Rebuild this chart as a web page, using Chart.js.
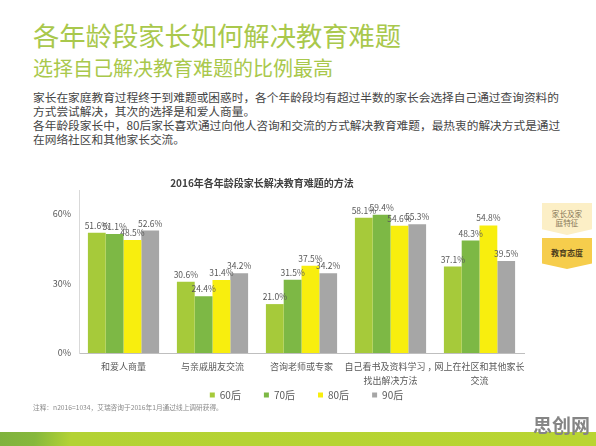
<!DOCTYPE html>
<html><head><meta charset="utf-8">
<script src="https://cdn.jsdelivr.net/npm/chart.js@4.4.1/dist/chart.umd.min.js"></script>
<style>
html,body{margin:0;padding:0;background:#fff;}
body{width:596px;height:446px;position:relative;overflow:hidden;font-family:"Noto Sans CJK SC","Noto Sans",sans-serif;}
.abs{position:absolute;white-space:nowrap;}
#t1{left:33px;top:21px;font-size:26.3px;line-height:28px;color:#a9c84c;}
#t2{left:33px;top:57px;font-size:20px;line-height:22px;color:#a9c84c;}
#para{left:33px;top:90px;font-size:11.7px;line-height:14px;color:#454545;}
#note{left:33px;top:403px;font-size:6.7px;line-height:8px;color:#8a8a8a;}
#wrap{position:absolute;left:0;top:172px;width:596px;height:245px;}
#band{position:absolute;left:0;top:432px;width:596px;height:14px;background:linear-gradient(100deg,#7fb23e 0,#86b83c 6%,#b3d234 12%,#b9d532 100%);}
.tag{position:absolute;left:542px;width:50px;text-align:center;clip-path:polygon(0 0,100% 0,100% 82%,50% 100%,0 82%);}
#tag1{top:203px;height:32px;background:#fcefc6;color:#857656;font-size:7.6px;line-height:8.5px;}
#tag1 span{display:block;padding-top:7px;}
#tag2{top:238px;height:31px;background:#f6cd4c;color:#4d3d1c;font-size:8px;line-height:9px;font-weight:bold;}
#tag2 span{display:block;padding-top:10px;}
#wm{left:533px;top:414px;font-size:19px;line-height:22px;color:#858585;font-weight:bold;}
</style>
</head><body>
<div class="abs" id="t1">各年龄段家长如何解决教育难题</div>
<div class="abs" id="t2">选择自己解决教育难题的比例最高</div>
<div class="abs" id="para">家长在家庭教育过程终于到难题或困惑时，各个年龄段均有超过半数的家长会选择自己通过查询资料的<br>方式尝试解决，其次的选择是和爱人商量。<br>各年龄段家长中，80后家长喜欢通过向他人咨询和交流的方式解决教育难题，最热衷的解决方式是通过<br>在网络社区和其他家长交流。</div>
<div id="wrap"><canvas id="c"></canvas></div>
<div class="tag" id="tag1"><span>家长及家<br>庭特征</span></div>
<div class="tag" id="tag2"><span>教育态度</span></div>
<div class="abs" id="note">注释：n2016=1034，艾瑞咨询于2016年1月通过线上调研获得。</div>
<div id="band"></div>
<div class="abs" id="wm">思创网</div>
<script>
const chartTitle = '2016年各年龄段家长解决教育难题的方法';
const categories = ['和爱人商量', '与亲戚朋友交流', '咨询老师或专家', ['自己看书及资料学习 ，', '找出解决方法'], ['网上在社区和其他家长', '交流']];
const seriesNames = ['60后', '70后', '80后', '90后'];
const v60 = [51.6, 30.6, 21.0, 58.1, 37.1];
const v70 = [51.1, 24.4, 31.5, 59.4, 48.3];
const v80 = [48.5, 31.4, 37.5, 54.6, 54.8];
const v90 = [52.6, 34.2, 34.2, 55.3, 39.5];
const yTicks = [0, 30, 60];
const seriesColors = ['#a6ca3a', '#7db845', '#f8ee0e', '#a6a6a6'];

Chart.defaults.font.family = '"Noto Sans CJK SC","Noto Sans",sans-serif';

const valueLabels = {
  id: 'valueLabels',
  afterDatasetsDraw(chart) {
    const ctx = chart.ctx;
    ctx.save();
    ctx.font = '8.5px "Noto Sans CJK SC","Noto Sans",sans-serif';
    ctx.fillStyle = '#595959';
    ctx.textAlign = 'center';
    ctx.textBaseline = 'bottom';
    chart.data.datasets.forEach((ds, i) => {
      chart.getDatasetMeta(i).data.forEach((bar, j) => {
        ctx.fillText(ds.data[j].toFixed(1) + '%', bar.x, bar.y - 3);
      });
    });
    ctx.restore();
  }
};

const legendShift = {
  id: 'legendShift',
  afterLayout(chart) {
    const lg = chart.legend;
    if (lg) { lg.left += 52; lg.right += 52; lg.top -= 7; lg.bottom -= 7; }
  }
};

const allSeries = [v60, v70, v80, v90];
new Chart(document.getElementById('c'), {
  type: 'bar',
  data: {
    labels: categories,
    datasets: allSeries.map((d, i) => ({
      label: seriesNames[i],
      data: d,
      backgroundColor: seriesColors[i],
      borderWidth: 0,
      categoryPercentage: 0.8,
      barPercentage: 1.0
    }))
  },
  options: {
    responsive: true,
    maintainAspectRatio: false,
    animation: false,
    layout: { padding: { left: 0, right: 72, top: 0, bottom: 0 } },
    scales: {
      x: {
        grid: { display: false, drawTicks: false },
        border: { display: true, color: '#bfbfbf', width: 1 },
        ticks: { font: { size: 9, lineHeight: 1.6 }, color: '#595959', padding: 6, maxRotation: 0, autoSkip: false },
        afterFit: s => { s.height = 36; }
      },
      y: {
        min: 0, max: 70,
        afterBuildTicks: s => { s.ticks = yTicks.map(v => ({ value: v })); },
        grid: { display: false, drawTicks: false },
        border: { display: true, color: '#d9d9d9', width: 1 },
        ticks: { font: { size: 9 }, color: '#595959', padding: 8, callback: v => v + '%' },
        afterFit: s => { s.width = 79; }
      }
    },
    plugins: {
      title: { display: true, text: chartTitle, font: { size: 10, weight: 'bold' }, color: '#404040', padding: { top: 5, bottom: 1 } },
      legend: {
        position: 'bottom',
        labels: {
          boxWidth: 5, boxHeight: 5, padding: 8,
          font: { size: 10 }, color: '#595959',
          generateLabels: chart => Chart.defaults.plugins.legend.labels.generateLabels(chart).map(l => Object.assign(l, { text: l.text + '\u2002\u2002\u2002' }))
        }
      },
      tooltip: { enabled: false }
    }
  },
  plugins: [valueLabels, legendShift]
});
</script>
</body></html>
